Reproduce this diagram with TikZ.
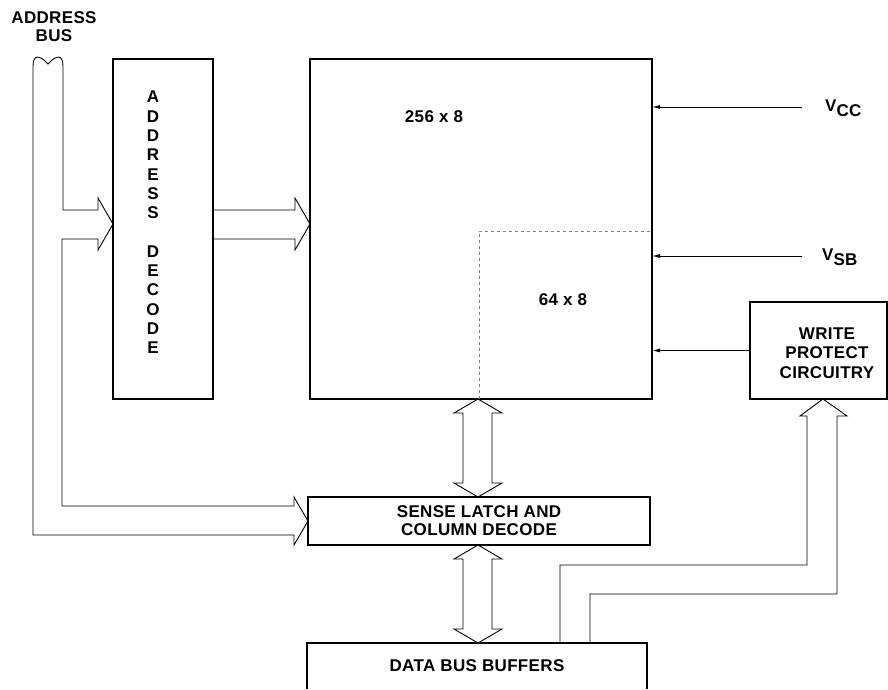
\documentclass[tikz,border=0pt]{standalone}
\usepackage{fontspec}
\newfontfamily\diagfont{Liberation Sans}[LetterSpace=2.0]
\usetikzlibrary{arrows.meta, positioning, calc}

\begin{document}
\begin{tikzpicture}[
    x=1pt, y=-1pt,
    block/.style={
        rectangle, draw, line width=1.1pt, inner sep=0pt, outer sep=0pt,
        align=center, font={\diagfont\bfseries\fontsize{17}{18}\selectfont}
    },
    txt/.style={
        inner sep=0pt, align=center,
        font={\diagfont\bfseries\fontsize{17}{18}\selectfont}
    },
    bus/.style={draw, line width=0.9pt, line join=miter},
    feed/.style={draw, line width=0.9pt, -{Latex[length=8pt, width=4pt]}},
    region/.style={draw, gray, line width=0.6pt, dash pattern=on 3pt off 3pt}
]
\useasboundingbox (0,0) rectangle (888,689);

\node[txt] (abus) at (54,27) {ADDRESS\\BUS};

\node[block, minimum width=100pt, minimum height=340pt] (decode) at (163,229) {};
\node[txt, font={\diagfont\bfseries\fontsize{17}{19.3}\selectfont}] (decodetxt) at (153,222.5)
    {A\\D\\D\\R\\E\\S\\S\\[19.3pt]D\\E\\C\\O\\D\\E};

\node[block, minimum width=342pt, minimum height=340pt] (array) at (481,229) {};
\node[txt] (big) at (434,117) {256 x 8};
\node[txt] (small) at (563,300) {64 x 8};
\draw[region] (479,399) |- (652,231);

\node[block, minimum width=342pt, minimum height=48pt] (sense) at (479,521) {SENSE LATCH AND\\COLUMN DECODE};

\node[block, draw=none, minimum width=340pt, minimum height=46pt] (data) at (477,666) {DATA BUS BUFFERS};
\draw[line width=1.1pt] (data.south west) -- (data.north west) -- (data.north east) -- (data.south east);

\node[block, minimum width=137pt, minimum height=97pt] (wprot) at (818.5,350.5) {};
\node[txt, font={\diagfont\bfseries\fontsize{17}{19.5}\selectfont}] (wprottxt) at (827,353) {WRITE\\PROTECT\\CIRCUITRY};

\node[txt, anchor=west] (vcc) at (825,108) {V\raisebox{-5pt}{CC}};
\node[txt, anchor=west] (vsb) at (822,257) {V\raisebox{-5pt}{SB}};
\coordinate (vccin) at (802,107);
\coordinate (vsbin) at (802,256);

% supply and protect inputs
\draw[feed] (vccin) -- (vccin -| array.east);
\draw[feed] (vsbin) -- (vsbin -| array.east);
\draw[feed] (wprot.west) -- (wprot.west -| array.east);

% address bus
\draw[bus] (33,535) -- (294,535) -- (294,545) -- (sense.west) -- (294,497) -- (294,506)
    -- (62,506) -- (62,239) -- (98,239) -- (98,250) -- (decode.west |- 0,224) -- (98,198)
    -- (98,210) -- (63,210) -- (63,66) .. controls (63,55) and (57,54) .. (48,64)
    .. controls (39,54) and (33,55) .. (33,66) -- cycle;
\draw[bus] (decode.east |- 0,210) -- (295,210) -- (295,198) -- (array.west |- 0,224)
    -- (295,250) -- (295,239) -- (decode.east |- 0,239);

% data paths
\foreach \top/\bot in {399/497, 545/643}
    \draw[bus] (478,\top) -- (502,{\top+14}) -- (492,{\top+14}) -- (492,{\bot-14}) -- (502,{\bot-14})
        -- (478,\bot) -- (454,{\bot-14}) -- (463,{\bot-14}) -- (463,{\top+14}) -- (454,{\top+14}) -- cycle;
\draw[bus] (560,643) -- (560,565) -- (807,565) -- (807,416) -- (800,416) -- (wprot.south -| 823,0)
    -- (847,416) -- (837,416) -- (837,594) -- (590,594) -- (590,643);

\end{tikzpicture}
\end{document}
